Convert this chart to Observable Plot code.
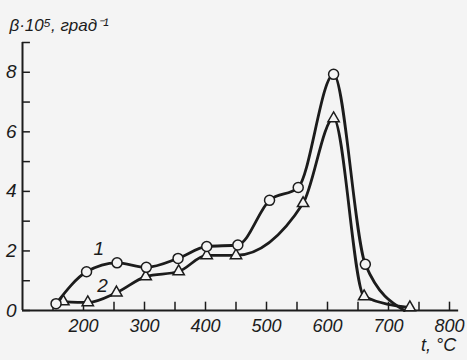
<!DOCTYPE html>
<html><head><meta charset="utf-8">
<script src="https://cdn.jsdelivr.net/npm/d3@7"></script>
<script src="https://cdn.jsdelivr.net/npm/@observablehq/plot@0.6"></script>
<style>html,body{margin:0;padding:0;background:#f4f4f4;}</style>
</head><body>
<div id="chart"></div>
<script>
// Curve 1 (circles)
const t1 = [155, 205, 255, 303, 355, 402, 453, 505, 552, 610, 662, 726];
const v1 = [0.23, 1.3, 1.6, 1.45, 1.75, 2.15, 2.2, 3.7, 4.13, 7.93, 1.55, 0];
const m1 = [1, 1, 1, 1, 1, 1, 1, 1, 1, 1, 1, 0]; // marker drawn?
// Curve 2 (triangles)
const t2 = [167, 207, 254, 302, 356, 402, 450, 560, 610, 660, 735];
const v2 = [0.3, 0.27, 0.6, 1.14, 1.31, 1.85, 1.85, 3.6, 6.45, 0.47, 0.1];
// axes
const xTicks = [150, 200, 250, 300, 350, 400, 450, 500, 550, 600, 650, 700, 750, 800];
const xLabels = [200, 300, 400, 500, 600, 700, 800];
const yTicks = [0, 1, 2, 3, 4, 5, 6, 7, 8, 9];
const yLabels = [0, 2, 4, 6, 8];
const yTitle = "β·10⁵, град⁻¹";
const xTitle = "t, °C";
const curveNames = ["1", "2"];
const curveLabelT = [225, 231];
const curveLabelV = [2.08, 0.84];

const s1 = t1.map((t, i) => ({t, v: v1[i], m: m1[i]}));
const s2 = t2.map((t, i) => ({t, v: v2[i]}));
const cl = curveNames.map((n, i) => ({n, t: curveLabelT[i], v: curveLabelV[i]}));
const ink = "#1c1c1c", bg = "#f4f4f4";
const font = "Liberation Sans, Arial, sans-serif";

const chart = Plot.plot({
  width: 467, height: 360,
  marginLeft: 22, marginRight: 18, marginTop: 42, marginBottom: 50,
  x: {domain: [100, 800]},
  y: {domain: [0, 9]},
  style: {background: bg, fontFamily: font, fontStyle: "italic", color: ink},
  marks: [
    Plot.ruleY([0], {x1: 100, x2: 815, stroke: ink, strokeWidth: 2}),
    Plot.ruleX([100], {y1: 0, y2: 9, stroke: ink, strokeWidth: 2}),
    Plot.ruleX(xTicks, {x: d => d, y1: 0, y2: 0.28, stroke: ink, strokeWidth: 1.5}),
    Plot.ruleY(yTicks, {y: d => d, x1: 100, x2: 113, stroke: ink, strokeWidth: 1.5}),
    Plot.axisX({ticks: xLabels, tickSize: 0, tickPadding: 9, fontSize: 18, fontStyle: "italic", label: null}),
    Plot.axisY({ticks: yLabels, tickSize: 0, tickPadding: 6, fontSize: 19, fontStyle: "italic", label: null}),
    Plot.text([yTitle], {x: 100, y: 9, text: d => d, textAnchor: "start", dx: -13, dy: -17, fontSize: 17, fontStyle: "italic", fill: ink}),
    Plot.text([xTitle], {x: 782, y: 0, text: d => d, dy: 35, fontSize: 18, fontStyle: "italic", fill: ink}),
    Plot.line(s2, {x: "t", y: "v", curve: "monotone-x", stroke: ink, strokeWidth: 2.8}),
    Plot.line(s1, {x: "t", y: "v", curve: "monotone-x", stroke: ink, strokeWidth: 2.8}),
    Plot.dot(s2, {x: "t", y: "v", symbol: "triangle", r: 4.2, fill: bg, stroke: ink, strokeWidth: 1.5}),
    Plot.dot(s1.filter(d => d.m), {x: "t", y: "v", symbol: "circle", r: 5, fill: bg, stroke: ink, strokeWidth: 1.5}),
    Plot.text(cl, {x: "t", y: "v", text: "n", fontSize: 19, fontStyle: "italic", fill: ink})
  ]
});
document.getElementById("chart").appendChild(chart);
</script>
</body></html>
